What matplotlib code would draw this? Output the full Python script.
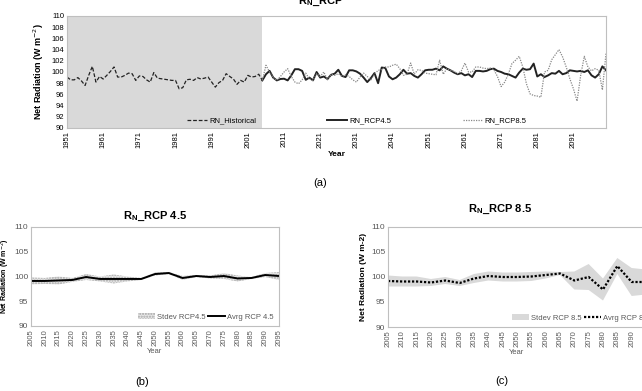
import matplotlib.pyplot as plt
import matplotlib.lines as mlines
import matplotlib.patches as mpatches
import numpy as np

plt.rcParams['font.family'] = ['Liberation Sans', 'DejaVu Sans']

# ---- data (a): annual net radiation ----
hist_years = np.arange(1951, 2006)
hist_vals = [99.1, 98.6, 98.6, 99.0, 98.4, 97.6, 99.4, 101.0, 98.2, 99.2,
             98.75, 99.4, 100.1, 100.9, 99.1, 99.1, 99.4, 99.8, 99.7, 98.5,
             99.3, 99.2, 98.6, 98.2, 99.9, 98.9, 98.8, 98.7, 98.6, 98.5,
             98.5, 97.0, 97.2, 98.6, 98.7, 98.5, 99.0, 98.75, 98.9, 99.1,
             98.2, 97.3, 98.1, 98.5, 99.7, 99.2, 98.75, 97.8, 98.5, 98.2,
             99.4, 99.1, 99.2, 99.6, 98.5]

rcp_years = np.arange(2005, 2101)
rcp45_vals = [98.5, 99.6, 100.2, 99.0, 98.5, 98.75, 98.8, 98.5, 99.4, 100.5,
              100.5, 100.2, 98.6, 99.0, 98.5, 100.0, 99.0, 99.2, 98.75, 99.5,
              99.7, 100.4, 99.3, 99.1, 100.3, 100.3, 100.1, 99.7, 99.0, 98.2,
              98.9, 99.8, 98.0, 100.8, 100.7, 99.2, 98.7, 99.0, 99.6, 100.4,
              99.7, 99.8, 99.3, 99.0, 99.6, 100.3, 100.4, 100.4, 100.6, 100.3,
              101.0, 100.6, 100.3, 99.9, 99.6, 99.8, 99.4, 99.6, 99.1, 100.2,
              100.2, 100.1, 100.2, 100.5, 100.6, 100.2, 100.0, 99.7, 99.6, 99.3,
              99.0, 99.9, 100.6, 100.4, 100.5, 101.5, 99.2, 99.6, 99.1, 99.4,
              99.8, 99.7, 100.2, 99.6, 99.8, 100.3, 100.2, 100.1, 100.2, 100.0,
              100.3, 99.4, 99.0, 99.6, 101.0, 100.3]
rcp85_vals = [98.5, 101.2, 100.0, 99.0, 98.5, 99.2, 100.0, 100.6, 99.2, 98.2,
              97.9, 98.6, 99.8, 98.75, 98.5, 99.7, 99.2, 100.0, 98.6, 99.6,
              99.4, 99.7, 99.2, 99.5, 99.2, 98.6, 98.2, 99.1, 99.8, 99.2,
              98.6, 99.6, 100.3, 100.4, 100.9, 100.9, 101.2, 101.4, 100.6, 99.4,
              99.6, 101.6, 99.6, 100.4, 100.3, 99.8, 99.7, 99.6, 99.5, 102.1,
              99.6, 100.6, 100.3, 100.1, 99.7, 100.2, 101.6, 100.0, 100.0, 100.9,
              100.9, 100.7, 100.6, 100.7, 100.4, 99.2, 97.4, 98.2, 99.6, 101.5,
              102.1, 102.8, 100.9, 97.9, 96.1, 95.8, 95.7, 95.5, 100.0, 100.3,
              102.2, 103.1, 104.0, 102.7, 100.9, 98.8, 97.0, 94.8, 99.4, 102.8,
              100.9, 100.2, 100.6, 100.3, 96.8, 103.3]

# ---- data (b), (c): 5-year mean and stdev ----
yr5 = np.arange(2005, 2096, 5)
avg45 = [99.1, 99.1, 99.2, 99.3, 99.9, 99.5, 99.5, 99.5, 99.5, 100.5,
         100.7, 99.7, 100.1, 99.9, 100.1, 99.6, 99.7, 100.3, 100.1]
sd45 = [0.7, 0.6, 0.8, 0.4, 0.6, 0.5, 0.9, 0.5, 0.2, 0.3,
        0.2, 0.4, 0.2, 0.3, 0.6, 0.6, 0.2, 0.4, 0.8]
avg85 = [99.2, 99.1, 99.1, 98.9, 99.3, 98.8, 99.7, 100.2, 100.0, 100.0,
         100.1, 100.4, 100.7, 99.3, 100.0, 97.5, 102.2, 99.0, 99.0]
sd85 = [1.1, 1.0, 1.0, 0.7, 0.7, 0.6, 0.9, 0.9, 0.9, 0.9,
        0.9, 0.7, 0.3, 1.8, 2.6, 2.2, 1.6, 2.8, 2.5]

fig = plt.figure(figsize=(6.42, 3.91), dpi=100)
W, H = 642.0, 391.0


def px_axes(x0, y0, x1, y1):
    return fig.add_axes([x0 / W, 1 - y1 / H, (x1 - x0) / W, (y1 - y0) / H])


def style_box(ax):
    for s in ax.spines.values():
        s.set_color('#bfbfbf')
        s.set_linewidth(0.8)
    ax.tick_params(length=0, pad=2)


# ---- (a) ----
ax = px_axes(67, 16, 606, 128)
ax.axvspan(1951, 2005, color='#d9d9d9', lw=0, zorder=0)
ax.plot(hist_years, hist_vals, color='#222222', ls=(0, (3, 1.5)), lw=0.9, label='RN_Historical')
ax.plot(rcp_years, rcp45_vals, color='#222222', lw=1.4, label='RN_RCP4.5')
ax.plot(rcp_years, rcp85_vals, color='#888888', ls=(0, (1, 1)), lw=0.9, label='RN_RCP8.5')
ax.set_xlim(1951, 2100)
ax.set_ylim(90, 110)
ax.set_yticks(np.arange(90, 111, 2))
ax.set_xticks(np.arange(1951, 2100, 10))
ax.tick_params(axis='x', labelrotation=90, labelsize=5.5)
ax.tick_params(axis='y', labelsize=5.5)
style_box(ax)
ax.set_ylabel('Net Radiation (W m$^{-2}$)', fontsize=6.5, fontweight='bold', labelpad=4)
ax.set_xlabel('Year', fontsize=6, fontweight='bold', labelpad=2)
ax.legend(loc='lower center', bbox_to_anchor=(0.538, -0.03), ncol=3, frameon=False,
          fontsize=5.5, columnspacing=9.3, handlelength=2.6, handletextpad=0.3)
fig.text(0.50, 0.997, r'R$_\mathregular{N}$_RCP', ha='center', va='center',
         fontsize=8, fontweight='bold')
fig.text(320 / W, 1 - 183 / H, '(a)', ha='center', va='center', fontsize=8)

# ---- (b) ----
axb = px_axes(31, 227, 279, 326)
axb.fill_between(yr5, np.array(avg45) - sd45, np.array(avg45) + sd45,
                 facecolor='#e6e6e6', edgecolor='#a6a6a6', hatch='......', lw=0)
axb.plot(yr5, avg45, color='black', lw=1.4)
axb.set_xlim(2005, 2095)
axb.set_ylim(90, 110)
axb.set_yticks(np.arange(90, 111, 5))
axb.set_xticks(yr5)
axb.tick_params(axis='x', labelrotation=90, labelsize=5.5, colors='#595959')
axb.tick_params(axis='y', labelsize=6, colors='#595959')
style_box(axb)
axb.set_ylabel('Net Radiation (W m$^{-2}$)', fontsize=5, fontweight='bold')
axb.yaxis.set_label_coords((12 - 31) / 248, 0.5)
axb.set_xlabel('Year', fontsize=5.5, color='#595959', labelpad=2)
axb.set_title(r'R$_\mathregular{N}$_RCP 4.5', fontsize=8, fontweight='bold', pad=6)
hb = [mpatches.Patch(facecolor='#e6e6e6', edgecolor='#a6a6a6', hatch='......', lw=0, label='Stdev RCP4.5'),
      mlines.Line2D([], [], color='black', lw=1.4, label='Avrg RCP 4.5')]
leg = axb.legend(handles=hb, loc='lower right', ncol=2, frameon=False, fontsize=5.5,
                 handlelength=2.2, handletextpad=0.3, columnspacing=0.3, borderaxespad=0.3)
for t in leg.get_texts():
    t.set_color('#595959')
fig.text(142 / W, 1 - 382 / H, '(b)', ha='center', va='center', fontsize=8)

# ---- (c) ----
axc = px_axes(388, 227, 646, 327)
axc.fill_between(yr5, np.array(avg85) - sd85, np.array(avg85) + sd85,
                 facecolor='#d9d9d9', lw=0)
axc.plot(yr5, avg85, color='black', lw=1.6, ls=(0, (1, 0.8)))
axc.set_xlim(2005, 2095)
axc.set_ylim(90, 110)
axc.set_yticks(np.arange(90, 111, 5))
axc.set_xticks(yr5)
axc.tick_params(axis='x', labelrotation=90, labelsize=5.5, colors='#595959')
axc.tick_params(axis='y', labelsize=6, colors='#595959')
style_box(axc)
axc.set_ylabel('Net Radiation (W m-2)', fontsize=6, fontweight='bold', labelpad=3)
axc.set_xlabel('Year', fontsize=5.5, color='#595959', labelpad=2)
fig.text(500 / W, 1 - 209 / H, r'R$_\mathregular{N}$_RCP 8.5', ha='center', va='center',
         fontsize=8, fontweight='bold')
hc = [mpatches.Patch(facecolor='#d9d9d9', lw=0, label='Stdev RCP 8.5'),
      mlines.Line2D([], [], color='black', lw=1.6, ls=(0, (1, 0.8)), label='Avrg RCP 8.5')]
leg = axc.legend(handles=hc, loc='lower left', bbox_to_anchor=(0.46, 0.0), ncol=2,
                 frameon=False, fontsize=5.5, handlelength=2.2, handletextpad=0.3,
                 columnspacing=0.3, borderaxespad=0.3)
for t in leg.get_texts():
    t.set_color('#595959')
fig.text(502 / W, 1 - 381 / H, '(c)', ha='center', va='center', fontsize=8)

fig.savefig('out.png', dpi=100)
